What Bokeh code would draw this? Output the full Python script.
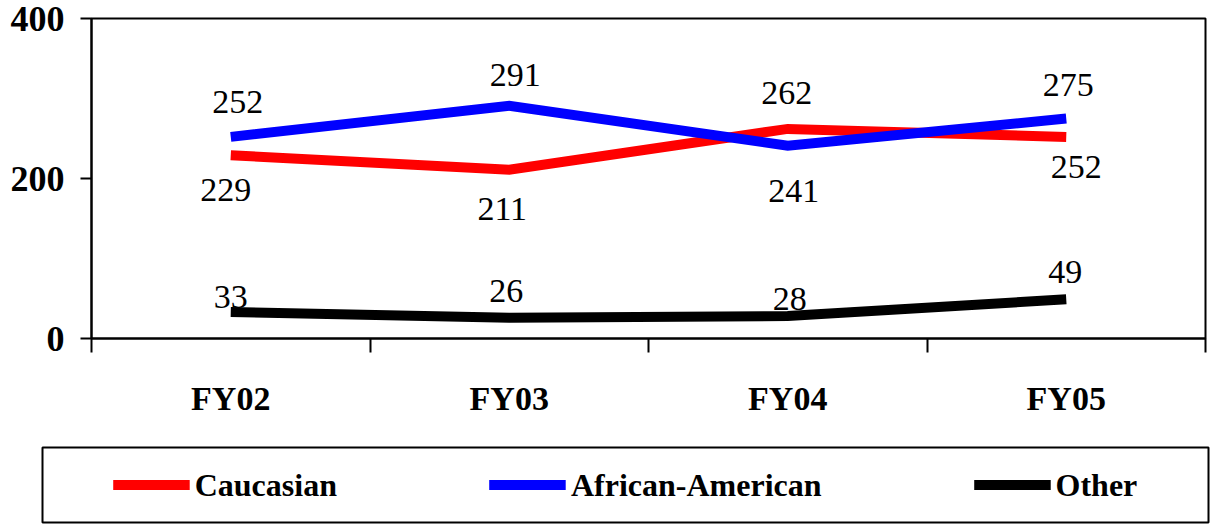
from bokeh.plotting import figure
from bokeh.models import (FactorRange, Range1d, LinearAxis, FixedTicker, Legend,
                          LegendItem, ColumnDataSource, LabelSet)
from bokeh.layouts import column
from bokeh.embed import file_html
from bokeh.resources import INLINE

# ---- data ----
categories = ["FY02", "FY03", "FY04", "FY05"]
caucasian = [229, 211, 262, 252]
african_american = [252, 291, 241, 275]
other = [33, 26, 28, 49]
series_names = ["Caucasian", "African-American", "Other"]
y_ticks = [0, 200, 400]

# ---- styling / layout ----
FONT = "Liberation Serif"
colors = ["#FF0000", "#0000FF", "#000000"]
# screen offsets of the value labels (positive = upwards)
label_dy = [[-35, -39, 36, -30], [35, 31, -45, 34], [15, 27, 17, 27]]
label_dx = [[-5, -7, -1, 10], [7, 6, 6, 2], [0, -3, 2, -1]]

p = figure(width=1210, height=440, x_range=FactorRange(*categories),
           y_range=Range1d(0, 400), output_backend="svg", toolbar_location=None,
           x_axis_type=None, min_border_left=91, min_border_right=5,
           min_border_top=18, min_border_bottom=102)
p.frame_align = False
p.outline_line_color = "black"
p.outline_line_width = 2
p.xgrid.visible = False
p.ygrid.visible = False

# y axis
ya = p.yaxis[0]
ya.ticker = FixedTicker(ticks=y_ticks)
ya.axis_line_width = 2
ya.major_tick_line_width = 2
ya.major_tick_out = 11
ya.major_tick_in = 0
ya.minor_tick_line_color = None
ya.major_label_text_font = FONT
ya.major_label_text_font_style = "bold"
ya.major_label_text_font_size = "36px"
ya.major_label_text_color = "black"
ya.major_label_standoff = 16

# x axis: labels at category centres, tick marks at category boundaries
n = len(categories)
centres = [i + 0.5 for i in range(n)]
bounds = [float(i) for i in range(n + 1)]
xa = LinearAxis(ticker=FixedTicker(ticks=centres, minor_ticks=bounds),
                major_label_overrides={c: lab for c, lab in zip(centres, categories)})
xa.axis_line_width = 2
xa.major_tick_line_color = None
xa.major_tick_out = 0
xa.major_tick_in = 0
xa.minor_tick_line_width = 2
xa.minor_tick_out = 14
xa.minor_tick_in = 0
xa.major_label_text_font = FONT
xa.major_label_text_font_style = "bold"
xa.major_label_text_font_size = "34px"
xa.major_label_text_color = "black"
xa.major_label_standoff = 27
p.add_layout(xa, "below")

all_series = [caucasian, african_american, other]
for vals, col, dy, dx in zip(all_series, colors, label_dy, label_dx):
    src = ColumnDataSource(dict(x=categories, y=vals, t=[str(v) for v in vals],
                                dy=dy, dx=dx))
    p.line("x", "y", source=src, line_color=col, line_width=10,
           line_join="miter", line_cap="butt")
    labels = LabelSet(x="x", y="y", text="t", source=src,
                      x_offset="dx", y_offset="dy",
                      text_align="center", text_baseline="middle",
                      text_font=FONT, text_font_size="34px", text_color="black")
    p.add_layout(labels)

# ---- legend box (its frame outline is the box) ----
p2 = figure(width=1210, height=85, x_range=FactorRange(*categories),
            y_range=Range1d(-2, -1), output_backend="svg", toolbar_location=None,
            x_axis_type=None, y_axis_type=None, min_border_left=42,
            min_border_right=2, min_border_top=7, min_border_bottom=3)
p2.frame_align = False
p2.outline_line_color = "black"
p2.outline_line_width = 2
p2.xgrid.visible = False
p2.ygrid.visible = False
items = []
for name, col, vals in zip(series_names, colors, all_series):
    # same data as the chart; the y range keeps these lines out of view
    r = p2.line(x=categories, y=vals, line_color=col, line_width=10, line_cap="butt")
    items.append(LegendItem(label=name, renderers=[r]))
leg = Legend(items=items, orientation="horizontal", location="center",
             border_line_color=None, background_fill_alpha=0,
             glyph_width=77, glyph_height=30, label_standoff=5, spacing=152,
             padding=0, margin=0,
             label_text_font=FONT, label_text_font_style="bold",
             label_text_font_size="32px", label_text_color="black")
p2.add_layout(leg, "center")

layout = column(p, p2, spacing=0)
open("out.html", "w").write(file_html(layout, INLINE))
